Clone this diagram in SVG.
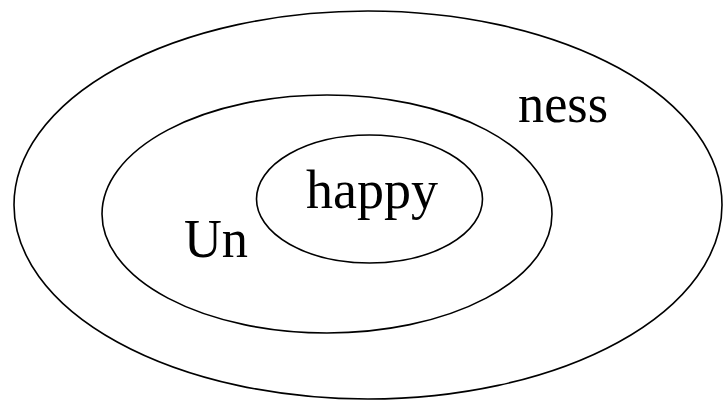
<svg xmlns="http://www.w3.org/2000/svg" width="723" height="401" viewBox="0 0 723 401">
<style>
.ring{fill:none;stroke:#000;stroke-width:1.6}
.lbl{font-family:"Liberation Serif","Times New Roman",serif;font-size:54px;fill:#000}
</style>
<rect width="723" height="401" fill="#fff"/>
<g id="outer"><ellipse class="ring" cx="368" cy="205" rx="354" ry="194"/><text class="lbl" x="518" y="122" textLength="90" lengthAdjust="spacingAndGlyphs">ness</text></g>
<g id="middle"><ellipse class="ring" cx="327" cy="214" rx="225" ry="119"/><text class="lbl" x="184" y="257" textLength="64" lengthAdjust="spacingAndGlyphs">Un</text></g>
<g id="inner"><ellipse class="ring" cx="369.5" cy="199" rx="113" ry="64"/><text class="lbl" x="306" y="208" textLength="132" lengthAdjust="spacingAndGlyphs">happy</text></g>
<g id="connectors"/>
</svg>
